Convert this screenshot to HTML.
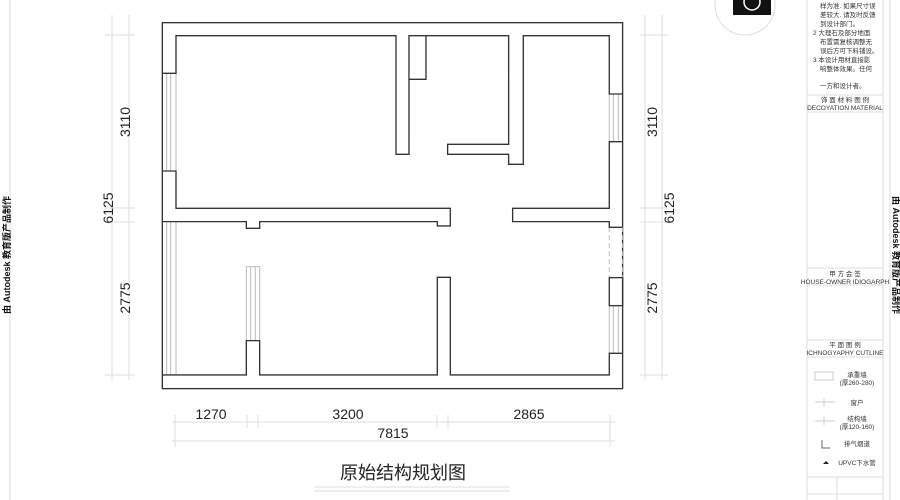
<!DOCTYPE html>
<html><head><meta charset="utf-8"><style>
html,body{margin:0;padding:0;background:#fff;}
svg{display:block}
text{font-family:"Liberation Sans","Noto Sans CJK SC",sans-serif;}
</style></head><body>
<svg width="900" height="500" viewBox="0 0 900 500" xmlns="http://www.w3.org/2000/svg">
<rect width="900" height="500" fill="#fff"/>
<!-- floor plan in zoom coords -->
<g transform="translate(150,10) scale(0.3333)" fill="none" stroke="#333" stroke-width="4">
  <rect x="37" y="38" width="1381" height="1098"/>
  <!-- windows gray -->
  <g stroke="#bbb" stroke-width="3">
    <line x1="50" y1="190" x2="50" y2="483"/><line x1="62" y1="190" x2="62" y2="483"/><line x1="78" y1="190" x2="78" y2="483"/>
    <line x1="50" y1="635" x2="50" y2="1095"/><line x1="62" y1="635" x2="62" y2="1095"/><line x1="78" y1="635" x2="78" y2="1095"/>
    <line x1="1390" y1="252" x2="1390" y2="395"/><line x1="1405" y1="252" x2="1405" y2="395"/><line x1="1378" y1="252" x2="1378" y2="395"/>
    <line x1="1390" y1="887" x2="1390" y2="1030"/><line x1="1405" y1="887" x2="1405" y2="1030"/><line x1="1378" y1="887" x2="1378" y2="1030"/>
    <rect x="289" y="770" width="40" height="222"/><line x1="302" y1="770" x2="302" y2="992"/><line x1="316" y1="770" x2="316" y2="992"/>
    <line x1="1378" y1="652" x2="1378" y2="803" stroke-dasharray="14,10"/><line x1="1418" y1="652" x2="1418" y2="803" stroke-dasharray="14,10"/>
  </g>
  <polyline points="37,190 78,190 78,77 738,77 738,433 777,433 777,77 1076,77 1076,403 893,403 893,433 1076,433 1076,463 1120,463 1120,77 1378,77 1378,252 1418,252"/>
  <polyline points="1418,395 1378,395 1378,595 1088,595 1088,635 1378,635 1378,652 1418,652"/>
  <rect x="1378" y="803" width="40" height="84"/>
  <polyline points="1418,1030 1378,1030 1378,1095 901,1095 901,802 862,802 862,1095 329,1095 329,992 289,992 289,1095 37,1095"/>
  <polyline points="37,483 78,483 78,595 901,595 901,648 862,648 862,635 329,635 329,655 289,655 289,635 37,635"/>
  <polyline points="777,208 828,208 828,77"/>
</g>
<!-- dimensions -->
<g stroke="#ddd" stroke-width="1" fill="none">
  <line x1="112" y1="15" x2="112" y2="380"/><line x1="129" y1="15" x2="129" y2="380"/>
  <line x1="105" y1="35" x2="135" y2="35"/><line x1="105" y1="208" x2="135" y2="208"/><line x1="105" y1="222" x2="135" y2="222"/><line x1="105" y1="375" x2="135" y2="375"/>
  <line x1="645" y1="15" x2="645" y2="380"/><line x1="662" y1="15" x2="662" y2="380"/>
  <line x1="640" y1="35" x2="668" y2="35"/><line x1="640" y1="208" x2="668" y2="208"/><line x1="640" y1="222" x2="668" y2="222"/><line x1="640" y1="375" x2="668" y2="375"/>
  <line x1="172" y1="422" x2="615" y2="422"/><line x1="172" y1="441" x2="615" y2="441"/>
  <line x1="175" y1="415" x2="175" y2="447"/><line x1="247" y1="415" x2="247" y2="428"/><line x1="258" y1="415" x2="258" y2="428"/><line x1="437" y1="415" x2="437" y2="428"/><line x1="448" y1="415" x2="448" y2="428"/><line x1="610" y1="415" x2="610" y2="447"/>
  <line x1="10" y1="0" x2="10" y2="500"/><line x1="807" y1="0" x2="807" y2="500"/><line x1="883" y1="0" x2="883" y2="500"/><line x1="890" y1="0" x2="890" y2="500"/>
  <line x1="807" y1="95" x2="883" y2="95"/><line x1="807" y1="112" x2="883" y2="112"/><line x1="807" y1="268" x2="883" y2="268"/><line x1="807" y1="285" x2="883" y2="285"/><line x1="807" y1="340" x2="883" y2="340"/><line x1="807" y1="357" x2="883" y2="357"/><line x1="807" y1="477" x2="883" y2="477"/><line x1="807" y1="494" x2="883" y2="494"/><line x1="837" y1="477" x2="837" y2="500"/>
  <line x1="314" y1="487" x2="510" y2="487"/><line x1="314" y1="491" x2="510" y2="491"/>
</g>
<g font-size="14" fill="#222" text-anchor="middle">
  <text transform="translate(130,122) rotate(-90)">3110</text>
  <text transform="translate(113,208) rotate(-90)">6125</text>
  <text transform="translate(130,298) rotate(-90)">2775</text>
  <text transform="translate(657,122) rotate(-90)">3110</text>
  <text transform="translate(674,208) rotate(-90)">6125</text>
  <text transform="translate(657,298) rotate(-90)">2775</text>
  <text x="211" y="419">1270</text><text x="348" y="419">3200</text><text x="529" y="419">2865</text>
  <text x="393" y="438">7815</text>
  <text x="403" y="479" font-size="18">原始结构规划图</text>
</g>
<g font-size="9" font-weight="bold" fill="#111" text-anchor="middle">
  <text transform="translate(10,255) rotate(-90)">由 Autodesk 教育版产品制作</text>
  <text transform="translate(893,255) rotate(90)">由 Autodesk 教育版产品制作</text>
</g>
<!-- compass -->
<circle cx="745" cy="5" r="30" fill="none" stroke="#ddd"/>
<rect x="733" y="-5" width="38" height="20" fill="#111"/>
<circle cx="752" cy="2" r="8" fill="none" stroke="#fff" stroke-width="1.5"/>
<g font-size="6.5" fill="#333">
  <text x="820" y="8">样为准. 如果尺寸误</text>
  <text x="820" y="17">差较大. 请及时反馈</text>
  <text x="820" y="26">到设计部门。</text>
  <text x="813" y="35">2 大理石及部分地面</text>
  <text x="820" y="44">布置需复核调整无</text>
  <text x="820" y="53">误后方可下料铺设。</text>
  <text x="813" y="62">3 本设计用材直接影</text>
  <text x="820" y="71">响整体效果。任何</text>
  <text x="820" y="88">一方和设计者。</text>
  <text x="845" y="102" text-anchor="middle">饰 面 材 料 图 例</text>
  <text x="845" y="110" text-anchor="middle">DECOYATION MATERIAL</text>
  <text x="845" y="276" text-anchor="middle">甲 方 会 签</text>
  <text x="845" y="284" text-anchor="middle">HOUSE-OWNER IDIOGARPH</text>
  <text x="845" y="347" text-anchor="middle">平 面 图 例</text>
  <text x="845" y="355" text-anchor="middle">ICHNOGYAPHY CUTLINE</text>
  <text x="857" y="377" text-anchor="middle">承重墙</text>
  <text x="857" y="385" text-anchor="middle">(厚260-280)</text>
  <text x="857" y="405" text-anchor="middle">窗户</text>
  <text x="857" y="421" text-anchor="middle">结构墙</text>
  <text x="857" y="429" text-anchor="middle">(厚120-160)</text>
  <text x="857" y="446" text-anchor="middle">排气烟道</text>
  <text x="857" y="465" text-anchor="middle">UPVC下水管</text>
</g>
<g fill="none" stroke="#ccc">
  <rect x="815" y="372" width="18" height="8"/>
  <line x1="815" y1="402" x2="835" y2="402"/><line x1="824" y1="398" x2="824" y2="406"/>
  <line x1="815" y1="421" x2="835" y2="421"/><line x1="824" y1="417" x2="824" y2="425"/>
  <path d="M822 440 v8 h8" stroke="#666"/>
</g>
<path d="M823 464 l3 -3 l3 3 z" fill="#222"/>
</svg>
</body></html>
